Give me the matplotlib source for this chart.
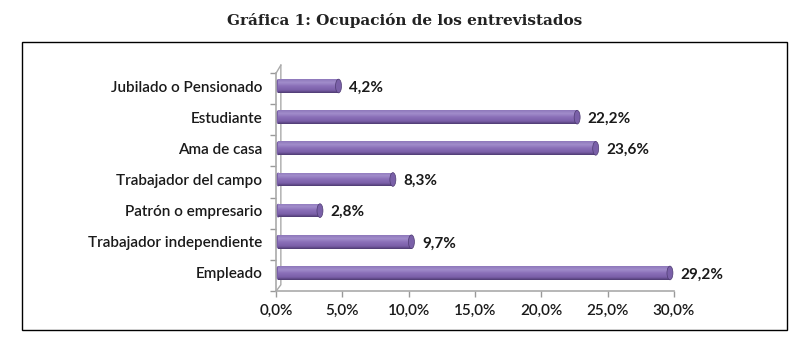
import numpy as np
import matplotlib
matplotlib.use('Agg')
import matplotlib.pyplot as plt
from matplotlib.patches import Rectangle, Ellipse
from matplotlib.colors import LinearSegmentedColormap

# Data
categorias = ["Empleado", "Trabajador independiente", "Patrón o empresario",
              "Trabajador del campo", "Ama de casa", "Estudiante",
              "Jubilado o Pensionado"]
porcentajes = [29.2, 9.7, 2.8, 8.3, 23.6, 22.2, 4.2]
xticks = [0, 5, 10, 15, 20, 25, 30]
xtick_labels = ["0,0%", "5,0%", "10,0%", "15,0%", "20,0%", "25,0%", "30,0%"]

plt.rcParams['font.family'] = ['Lato', 'DejaVu Sans']

fig = plt.figure(figsize=(8.1, 3.44), dpi=100)
ax = fig.add_axes([0.341, 0.154, 0.491, 0.634])

# frame around the chart
fig.patches.append(Rectangle((22 / 810, 1 - 330 / 344), 765 / 810, 288 / 344,
                             transform=fig.transFigure, fill=False,
                             edgecolor='black', linewidth=1.0))

fig.text(0.5, 1 - 21 / 344, "Gráfica 1: Ocupación de los entrevistados",
         ha='center', va='center', fontsize=11, fontweight='bold',
         family='DejaVu Serif', color='#222222')

bar_h = 0.44
depth = 0.5  # 3D offset of the bars
cmap = LinearSegmentedColormap.from_list(
    "cyl", [(0, "#8e78bb"), (0.25, "#a18dcb"), (0.5, "#8a6fb8"),
            (0.8, "#7a5fa8"), (1, "#4e3b72")])
grad = np.linspace(0, 1, 64).reshape(-1, 1)

off = 0.08
ypos = np.arange(len(categorias)) + off
for y, v in zip(ypos, porcentajes):
    x0, x1 = 0.15, v + depth
    rect = Rectangle((x0, y - bar_h / 2), x1 - x0, bar_h, facecolor='#8a6fb8',
                     edgecolor='none', zorder=2)
    ax.add_patch(rect)
    im = ax.imshow(grad, cmap=cmap, aspect='auto', zorder=3,
                   extent=(x0, x1, y - bar_h / 2, y + bar_h / 2), origin='upper')
    im.set_clip_path(rect)
    ax.add_patch(Ellipse((x1, y), 0.45, bar_h, facecolor='#7a60a8',
                         edgecolor='#4e3b72', linewidth=0.5, zorder=4))
    ax.add_patch(Ellipse((x0, y), 0.45, bar_h, facecolor='#7a5fa8',
                         edgecolor='none', zorder=1))
    ax.text(x1 + 0.8, y - 0.05, "{:.1f}%".format(v).replace(".", ","),
            va='center', ha='left', fontsize=11, fontweight='bold',
            color='#1a1a1a', zorder=5)

ax.set_xlim(0, 30)
ax.set_ylim(-0.5, len(categorias) - 0.5)
ax.set_xticks(xticks)
ax.set_xticklabels(xtick_labels, fontsize=11, color='#1a1a1a',
                   fontweight='semibold')
ax.set_yticks(ypos)
ax.set_yticklabels(categorias, fontsize=11, color='#1a1a1a',
                   fontweight='semibold')
ax.set_yticks(np.arange(len(categorias) + 1) - 0.5, minor=True)
ax.tick_params(axis='y', which='major', length=0, pad=10)
ax.tick_params(axis='y', which='minor', length=4, color='#999999', width=1)
ax.tick_params(axis='x', length=4, color='#999999', width=1, pad=5)

for s in ['top', 'right']:
    ax.spines[s].set_visible(False)
for s in ['left', 'bottom']:
    ax.spines[s].set_color('#aaaaaa')
    ax.spines[s].set_linewidth(1.2)

# 3D wall edge
ax.plot([0, 0.35, 0.35], [-0.5, -0.3, len(categorias) - 0.25], color='#aaaaaa',
        linewidth=1.0, clip_on=False, zorder=1)
ax.plot([0, 0.35], [len(categorias) - 0.5, len(categorias) - 0.25],
        color='#aaaaaa', linewidth=1.0, clip_on=False, zorder=1)

fig.savefig("out.png", dpi=100)
